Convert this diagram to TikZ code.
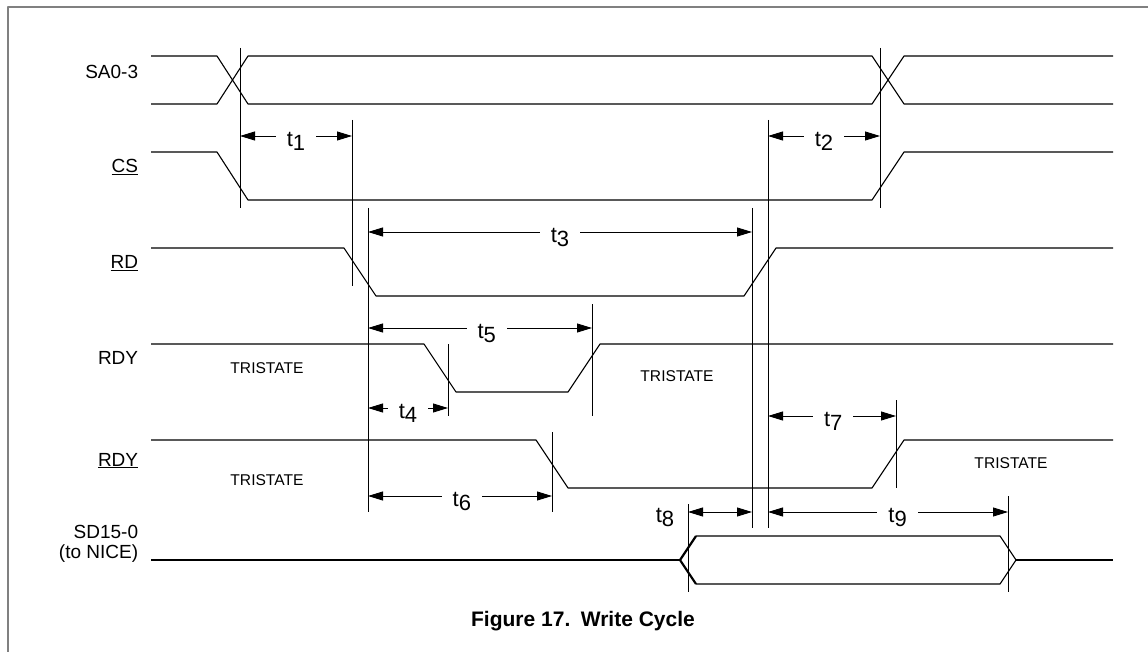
\documentclass[tikz,border=0pt]{standalone}
\usepackage{fontspec}
\setmainfont{Liberation Sans}
\usetikzlibrary{arrows.meta}
\newcommand{\tsub}[1]{t\raisebox{-4pt}{#1}}
\begin{document}
\begin{tikzpicture}[x=1pt,y=-1pt,line width=1.1pt,line join=round,
	font=\fontsize{19}{20}\selectfont,
	guide/.style={line width=0.9pt},
	dim/.style={{Triangle[length=15pt,width=9pt]}-{Triangle[length=15pt,width=9pt]},line width=0.9pt},
	tlab/.style={fill=white,inner xsep=11pt,inner ysep=1pt,anchor=base,yshift=-10.5pt,font=\fontsize{22}{22}\selectfont},
	tri/.style={anchor=base,font=\fontsize{15.6}{16}\selectfont},
	sname/.style={anchor=base east}]
	\useasboundingbox (0,0) rectangle (1148,652);
	\draw[gray,line width=1.2pt] (8,652)--(8,7)--(1148,7);
	% signal names
	\node[sname] (sa) at (142,79) {SA0-3};
	\node[sname] (cs) at (142,173) {\underline{CS}};
	\node[sname] (rd) at (142,269) {\underline{RD}};
	\node[sname] (rdy) at (142,364) {RDY};
	\node[sname] (nrdy) at (142,466) {\underline{RDY}};
	\node[sname,align=right] (sd) at (142,558) {SD15-0\\(to NICE)};
	% waveforms
	\draw (151,56)--(217,56)--(248,104)--(872,104)--(904,56)--(1113,56);
	\draw (151,104)--(217,104)--(248,56)--(872,56)--(904,104)--(1113,104);
	\draw (151,152)--(217,152)--(248,200)--(872,200)--(904,152)--(1113,152);
	\draw (151,248)--(344,248)--(376,296)--(744,296)--(776,248)--(1113,248);
	\draw (151,344)--(424,344)--(456,392)--(568,392)--(600,344)--(1113,344);
	\draw (151,440)--(536,440)--(568,488)--(872,488)--(904,440)--(1113,440);
	\draw (151,560)--(680,560) (1016,560)--(1113,560);
	\draw (696,536)--(1000,536)--(1016,560)--(1000,584)--(696,584);
	\draw[line width=2.2pt] (696,536)--(680,560)--(696,584);
	\node[tri] (z1) at (267,373) {TRISTATE};
	\node[tri] (z2) at (677,381) {TRISTATE};
	\node[tri] (z3) at (267,485) {TRISTATE};
	\node[tri] (z4) at (1011,468) {TRISTATE};
	% timing marks
	\foreach \x/\a/\b in {240/48/208,880/48/208,352/120/286,768/120/528,368/208/512,752/208/528,
		592/304/416,448/344/416,552/432/512,896/400/488,688/504/592,1008/496/592}
		\draw[guide] (\x,\a)--(\x,\b);
	\draw[dim] (240,136)--node[tlab]{\tsub{1}} (352,136);
	\draw[dim] (768,136)--node[tlab]{\tsub{2}} (880,136);
	\draw[dim] (368,232)--node[tlab]{\tsub{3}} (752,232);
	\draw[dim] (368,408)--node[tlab]{\tsub{4}} (448,408);
	\draw[dim] (368,328)--node[tlab,pos=.53]{\tsub{5}} (592,328);
	\draw[dim] (368,496)--node[tlab,pos=.51]{\tsub{6}} (552,496);
	\draw[dim] (768,416)--node[tlab,pos=.51]{\tsub{7}} (896,416);
	\draw[dim] (688,512)--(752,512);
	\node[tlab,fill=none] (t8) at (665,512) {\tsub{8}};
	\draw[dim] (768,512)--node[tlab,pos=.54]{\tsub{9}} (1008,512);
	\node[anchor=base,font=\bfseries\fontsize{21}{22}\selectfont] (cap) at (583,626) {Figure 17.\hspace{0.5em}Write Cycle};
\end{tikzpicture}
\end{document}
